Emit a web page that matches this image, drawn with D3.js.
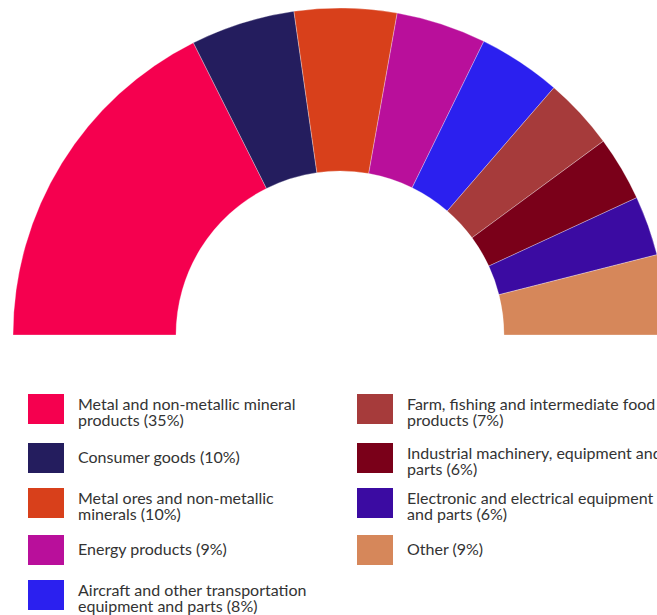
<!DOCTYPE html>
<html><head><meta charset="utf-8">
<script src="https://cdn.jsdelivr.net/npm/d3@7"></script>
<style>
html,body{margin:0;padding:0;background:#fff;overflow:hidden;}
svg{display:block;}
text{font-family:Lato, "Open Sans", sans-serif;}
</style></head>
<body>
<svg id="chart" width="657" height="615"></svg>
<script>
const categories = [
  "Metal and non-metallic mineral products",
  "Consumer goods",
  "Metal ores and non-metallic minerals",
  "Energy products",
  "Aircraft and other transportation equipment and parts",
  "Farm, fishing and intermediate food products",
  "Industrial machinery, equipment and parts",
  "Electronic and electrical equipment and parts",
  "Other"
];
const values = [35.2, 10.3, 10.1, 8.9, 8.2, 7.1, 6.4, 5.9, 7.9];
const legendLines = [
  ["Metal and non-metallic mineral", "products (35%)"],
  ["Consumer goods (10%)"],
  ["Metal ores and non-metallic", "minerals (10%)"],
  ["Energy products (9%)"],
  ["Aircraft and other transportation", "equipment and parts (8%)"],
  ["Farm, fishing and intermediate food", "products (7%)"],
  ["Industrial machinery, equipment and", "parts (6%)"],
  ["Electronic and electrical equipment", "and parts (6%)"],
  ["Other (9%)"]
];
const colors = ["#f5004f","#241d5e","#d8401b","#b90f9b","#2b20ef","#a63b3b","#7a0019","#3b0ba2","#d6875a"];

const svg = d3.select("#chart");
const cx = 340, cy = 335, outerR = 327, innerR = 164;

const pie = d3.pie().sort(null).value(d => d)
  .startAngle(-Math.PI/2).endAngle(Math.PI/2);
const arc = d3.arc().innerRadius(innerR).outerRadius(outerR);
const color = d3.scaleOrdinal().domain(categories).range(colors);

const g = svg.append("g").attr("transform", `translate(${cx},${cy})`);
g.selectAll("path").data(pie(values)).join("path")
  .attr("d", arc)
  .attr("fill", (d,i) => color(categories[i]))
  .attr("stroke", "#fff").attr("stroke-width", 0.6).attr("stroke-opacity", 0.5);

// legend
const colX = [28, 357];
const rowY = [394, 443, 488, 535, 580];
const leg = svg.append("g");
categories.forEach((c, i) => {
  const col = i < 5 ? 0 : 1;
  const row = i < 5 ? i : i - 5;
  const x = colX[col], y = rowY[row];
  leg.append("rect").attr("x", x).attr("y", y).attr("width", 36).attr("height", 30)
    .attr("fill", color(c));
  const lines = legendLines[i];
  const lh = 16;
  const t = leg.append("text").attr("x", x + 50).attr("font-size", 16).attr("fill", "#333");
  const y0 = lines.length > 1 ? y + 16 : y + 19.5;
  lines.forEach((l, k) => {
    t.append("tspan").attr("x", x + 50).attr("y", y0 + k * lh).text(l);
  });
});
</script>
</body></html>
